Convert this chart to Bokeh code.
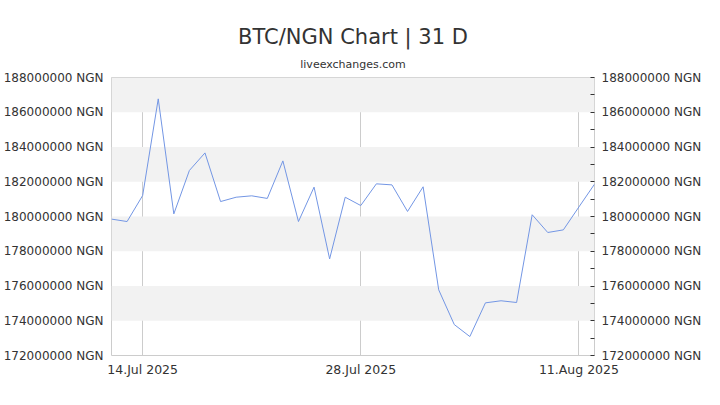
import pandas as pd
from bokeh.plotting import figure
from bokeh.models import Range1d, LinearAxis, FixedTicker, Title, ColumnDataSource
from bokeh.embed import file_html
from bokeh.resources import INLINE

dates = [
    "2025-07-12", "2025-07-13", "2025-07-14", "2025-07-15", "2025-07-16", "2025-07-17",
    "2025-07-18", "2025-07-19", "2025-07-20", "2025-07-21", "2025-07-22", "2025-07-23",
    "2025-07-24", "2025-07-25", "2025-07-26", "2025-07-27", "2025-07-28", "2025-07-29",
    "2025-07-30", "2025-07-31", "2025-08-01", "2025-08-02", "2025-08-03", "2025-08-04",
    "2025-08-05", "2025-08-06", "2025-08-07", "2025-08-08", "2025-08-09", "2025-08-10",
    "2025-08-11", "2025-08-12",
]
values = [
    179850000, 179710000, 181210000, 186770000, 180150000, 182650000,
    183660000, 180860000, 181110000, 181190000, 181040000, 183200000,
    179710000, 181690000, 177560000, 181110000, 180630000, 181880000,
    181820000, 180290000, 181710000, 175780000, 173780000, 173090000,
    175030000, 175150000, 175050000, 180100000, 179080000, 179230000,
    180550000, 181860000,
]

y_ticks = [172000000, 174000000, 176000000, 178000000, 180000000,
           182000000, 184000000, 186000000, 188000000]
y_minor = [173000000, 175000000, 177000000, 179000000, 181000000,
           183000000, 185000000, 187000000]
y_tick_labels = ["172000000 NGN", "174000000 NGN", "176000000 NGN", "178000000 NGN",
                 "180000000 NGN", "182000000 NGN", "184000000 NGN", "186000000 NGN",
                 "188000000 NGN"]
x_tick_dates = ["2025-07-14", "2025-07-28", "2025-08-11"]
x_tick_labels = ["14.Jul 2025", "28.Jul 2025", "11.Aug 2025"]

FONT = "DejaVu Sans"

dt = pd.to_datetime(dates)
src = ColumnDataSource(dict(date=dt, value=values))
x_ticks_ms = [int(pd.Timestamp(d).value // 10**6) for d in x_tick_dates]

p = figure(width=704, height=389, x_axis_type="datetime",
           x_range=Range1d(dt[0], dt[-1]),
           y_range=Range1d(y_ticks[0], y_ticks[-1]),
           output_backend="svg", toolbar_location=None,
           min_border_left=8, min_border_right=8, min_border_top=77,
           min_border_bottom=34)

p.background_fill_color = "white"
p.border_fill_color = "white"
p.outline_line_color = "#cccccc"
p.outline_line_width = 1

p.line(x="date", y="value", source=src, line_color="#7396e4", line_width=1)

# grids
p.ygrid.ticker = FixedTicker(ticks=y_ticks)
p.ygrid.grid_line_color = None
p.ygrid.band_fill_color = "#f2f2f2"
p.ygrid.band_fill_alpha = 1.0
p.xgrid.ticker = FixedTicker(ticks=x_ticks_ms)
p.xgrid.grid_line_color = "#cccccc"
p.xgrid.grid_line_width = 1

# x axis
xa = p.xaxis[0]
xa.ticker = FixedTicker(ticks=x_ticks_ms)
xa.major_label_overrides = {t: lab for t, lab in zip(x_ticks_ms, x_tick_labels)}
xa.axis_line_color = None
xa.major_tick_line_color = None
xa.minor_tick_line_color = None
xa.major_tick_in = 0
xa.major_tick_out = 0
xa.minor_tick_in = 0
xa.minor_tick_out = 0
xa.major_label_standoff = 6
xa.major_label_text_font = FONT
xa.major_label_text_font_size = "12.5px"
xa.major_label_text_color = "#333333"

# left y axis
ya = p.yaxis[0]
ya.ticker = FixedTicker(ticks=y_ticks)
ya.major_label_overrides = {t: lab for t, lab in zip(y_ticks, y_tick_labels)}
ya.axis_line_color = None
ya.major_tick_line_color = None
ya.minor_tick_line_color = None
ya.major_tick_in = 0
ya.major_tick_out = 0
ya.minor_tick_in = 0
ya.minor_tick_out = 0
ya.major_label_standoff = 8
ya.major_label_text_font = FONT
ya.major_label_text_font_size = "12px"
ya.major_label_text_color = "#333333"

# right y axis
ra = LinearAxis(ticker=FixedTicker(ticks=y_ticks, minor_ticks=y_minor))
ra.major_label_overrides = {t: lab for t, lab in zip(y_ticks, y_tick_labels)}
ra.axis_line_color = None
ra.major_tick_in = 4
ra.major_tick_out = 0
ra.minor_tick_in = 4
ra.minor_tick_out = 0
ra.major_tick_line_color = "#333333"
ra.minor_tick_line_color = "#333333"
ra.major_label_standoff = 7
ra.major_label_text_font = FONT
ra.major_label_text_font_size = "12px"
ra.major_label_text_color = "#333333"
p.add_layout(ra, "right")

# titles (first added sits closest to the plot)
p.add_layout(Title(text="liveexchanges.com", align="center", text_font=FONT,
                   text_font_size="11px", text_font_style="normal",
                   text_color="#333333", standoff=14), "above")
p.add_layout(Title(text="BTC/NGN Chart | 31 D", align="center", text_font=FONT,
                   text_font_size="21px", text_font_style="normal",
                   text_color="#333333", standoff=0), "above")

open("out.html", "w").write(file_html(p, INLINE))
